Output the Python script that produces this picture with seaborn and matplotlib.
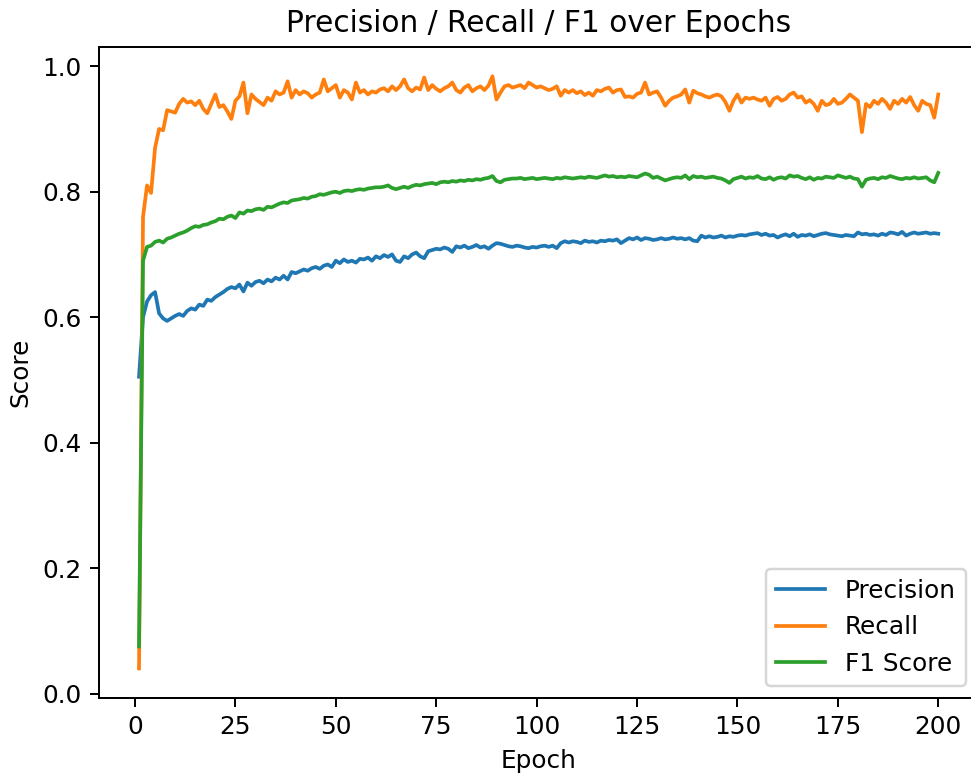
import numpy as np
import pandas as pd
import matplotlib
matplotlib.use("Agg")
import matplotlib.pyplot as plt
import seaborn as sns

epochs = list(range(1, 201))

precision = [
    0.505, 0.600, 0.625, 0.635, 0.640, 0.606, 0.598, 0.594, 0.598, 0.602,
    0.605, 0.602, 0.610, 0.614, 0.612, 0.620, 0.618, 0.628, 0.626, 0.632,
    0.636, 0.640, 0.645, 0.648, 0.646, 0.652, 0.641, 0.655, 0.650, 0.656,
    0.658, 0.654, 0.660, 0.657, 0.663, 0.660, 0.666, 0.660, 0.672, 0.670,
    0.673, 0.676, 0.674, 0.678, 0.680, 0.677, 0.682, 0.684, 0.680, 0.690,
    0.686, 0.692, 0.688, 0.690, 0.687, 0.693, 0.692, 0.695, 0.690, 0.697,
    0.694, 0.699, 0.696, 0.700, 0.690, 0.688, 0.697, 0.694, 0.700, 0.703,
    0.697, 0.694, 0.705, 0.707, 0.709, 0.708, 0.711, 0.709, 0.704, 0.713,
    0.711, 0.714, 0.710, 0.712, 0.715, 0.711, 0.713, 0.709, 0.714, 0.718,
    0.717, 0.715, 0.713, 0.712, 0.714, 0.713, 0.711, 0.710, 0.712, 0.711,
    0.713, 0.714, 0.712, 0.714, 0.710, 0.718, 0.721, 0.719, 0.721, 0.720,
    0.718, 0.722, 0.720, 0.721, 0.719, 0.722, 0.721, 0.723, 0.722, 0.724,
    0.718, 0.722, 0.726, 0.724, 0.727, 0.723, 0.726, 0.725, 0.723, 0.724,
    0.726, 0.724, 0.725, 0.727, 0.725, 0.726, 0.724, 0.726, 0.722, 0.721,
    0.730, 0.727, 0.729, 0.727, 0.728, 0.730, 0.727, 0.729, 0.728, 0.730,
    0.731, 0.730, 0.732, 0.733, 0.734, 0.731, 0.733, 0.730, 0.731, 0.727,
    0.730, 0.732, 0.729, 0.733, 0.728, 0.731, 0.730, 0.732, 0.729, 0.731,
    0.733, 0.734, 0.732, 0.731, 0.730, 0.729, 0.731, 0.730, 0.729, 0.735,
    0.732, 0.733, 0.731, 0.732, 0.730, 0.733, 0.731, 0.735, 0.734, 0.732,
    0.736, 0.730, 0.733, 0.735, 0.733, 0.734, 0.735, 0.733, 0.734, 0.733,
]

recall = [
    0.040, 0.760, 0.810, 0.798, 0.870, 0.900, 0.898, 0.930, 0.928, 0.926,
    0.940, 0.948, 0.942, 0.944, 0.938, 0.945, 0.932, 0.925, 0.940, 0.955,
    0.935, 0.938, 0.928, 0.916, 0.945, 0.952, 0.974, 0.925, 0.955, 0.948,
    0.943, 0.938, 0.950, 0.945, 0.960, 0.955, 0.958, 0.976, 0.950, 0.962,
    0.955, 0.960, 0.957, 0.950, 0.955, 0.958, 0.979, 0.960, 0.965, 0.970,
    0.950, 0.962, 0.958, 0.947, 0.974, 0.958, 0.962, 0.955, 0.960, 0.958,
    0.963, 0.965, 0.960, 0.968, 0.962, 0.968, 0.979, 0.965, 0.960, 0.966,
    0.963, 0.982, 0.962, 0.970, 0.964, 0.960, 0.965, 0.968, 0.974, 0.962,
    0.958, 0.966, 0.970, 0.960, 0.965, 0.968, 0.962, 0.969, 0.984, 0.947,
    0.958, 0.968, 0.970, 0.966, 0.968, 0.970, 0.965, 0.974, 0.970, 0.966,
    0.968, 0.965, 0.962, 0.964, 0.968, 0.953, 0.962, 0.958, 0.962, 0.957,
    0.960, 0.954, 0.958, 0.953, 0.962, 0.960, 0.964, 0.966, 0.958, 0.962,
    0.963, 0.951, 0.952, 0.950, 0.956, 0.958, 0.974, 0.955, 0.958, 0.960,
    0.950, 0.937, 0.945, 0.950, 0.952, 0.955, 0.963, 0.942, 0.961, 0.957,
    0.955, 0.952, 0.950, 0.953, 0.955, 0.952, 0.943, 0.929, 0.945, 0.955,
    0.942, 0.950, 0.948, 0.950, 0.947, 0.945, 0.950, 0.937, 0.948, 0.951,
    0.945, 0.948, 0.955, 0.958, 0.950, 0.952, 0.942, 0.946, 0.940, 0.929,
    0.945, 0.938, 0.940, 0.948, 0.940, 0.942, 0.948, 0.955, 0.950, 0.945,
    0.895, 0.940, 0.935, 0.945, 0.940, 0.948, 0.942, 0.932, 0.945, 0.940,
    0.948, 0.942, 0.951, 0.938, 0.929, 0.945, 0.940, 0.938, 0.918, 0.955,
]

f1_score = [
    0.075, 0.690, 0.712, 0.714, 0.720, 0.722, 0.719, 0.725, 0.727, 0.730,
    0.733, 0.735, 0.738, 0.742, 0.745, 0.744, 0.747, 0.748, 0.751, 0.753,
    0.757, 0.756, 0.760, 0.762, 0.758, 0.767, 0.765, 0.770, 0.769, 0.772,
    0.773, 0.771, 0.776, 0.775, 0.778, 0.781, 0.783, 0.782, 0.786, 0.787,
    0.788, 0.790, 0.789, 0.792, 0.793, 0.796, 0.795, 0.797, 0.799, 0.800,
    0.798, 0.801, 0.802, 0.801, 0.803, 0.804, 0.803, 0.805, 0.806, 0.807,
    0.807, 0.808, 0.810, 0.806, 0.804, 0.806, 0.808, 0.806, 0.809, 0.811,
    0.810, 0.812, 0.813, 0.814, 0.812, 0.815, 0.816, 0.815, 0.817, 0.816,
    0.818, 0.817, 0.819, 0.818, 0.820, 0.819, 0.821, 0.822, 0.825, 0.817,
    0.815, 0.819, 0.820, 0.821, 0.821, 0.822, 0.820, 0.821, 0.822, 0.820,
    0.821, 0.822, 0.821, 0.820, 0.822, 0.821, 0.823, 0.822, 0.821, 0.822,
    0.823, 0.822, 0.824, 0.823, 0.822, 0.824, 0.826, 0.824, 0.825, 0.823,
    0.824, 0.823, 0.825, 0.824, 0.823, 0.826, 0.829, 0.827, 0.822, 0.824,
    0.821, 0.818, 0.820, 0.822, 0.823, 0.822, 0.826, 0.820, 0.825, 0.823,
    0.824, 0.822, 0.823, 0.824, 0.822, 0.821, 0.818, 0.814, 0.820, 0.822,
    0.824, 0.821, 0.823, 0.822, 0.825, 0.821, 0.820, 0.823, 0.819, 0.822,
    0.823, 0.821, 0.826, 0.824, 0.825, 0.822, 0.820, 0.823, 0.819, 0.822,
    0.821, 0.824, 0.823, 0.822, 0.826, 0.824, 0.822, 0.824, 0.821, 0.820,
    0.808, 0.819, 0.821, 0.822, 0.820, 0.823, 0.822, 0.825, 0.823, 0.821,
    0.820, 0.822, 0.821, 0.823, 0.821, 0.822, 0.823, 0.818, 0.815, 0.830,
]

series_names = ["Precision", "Recall", "F1 Score"]

df = pd.DataFrame({
    "Epoch": epochs * 3,
    "Score": precision + recall + f1_score,
    "Metric": [series_names[0]] * len(epochs)
              + [series_names[1]] * len(epochs)
              + [series_names[2]] * len(epochs),
})

DPI = 178
fig = plt.figure(figsize=(972 / DPI, 778 / DPI), dpi=DPI)
ax = fig.add_axes([0.1019, 0.1028, 0.9045, 0.8372])

sns.lineplot(data=df, x="Epoch", y="Score", hue="Metric",
             hue_order=series_names,
             palette=["#1f77b4", "#ff7f0e", "#2ca02c"],
             linewidth=1.5, ax=ax)

ax.set_title("Precision / Recall / F1 over Epochs", fontsize=12)
ax.set_xlabel("Epoch")
ax.set_ylabel("Score")
ax.legend(loc="lower right")

fig.savefig("out.png", dpi=DPI)
